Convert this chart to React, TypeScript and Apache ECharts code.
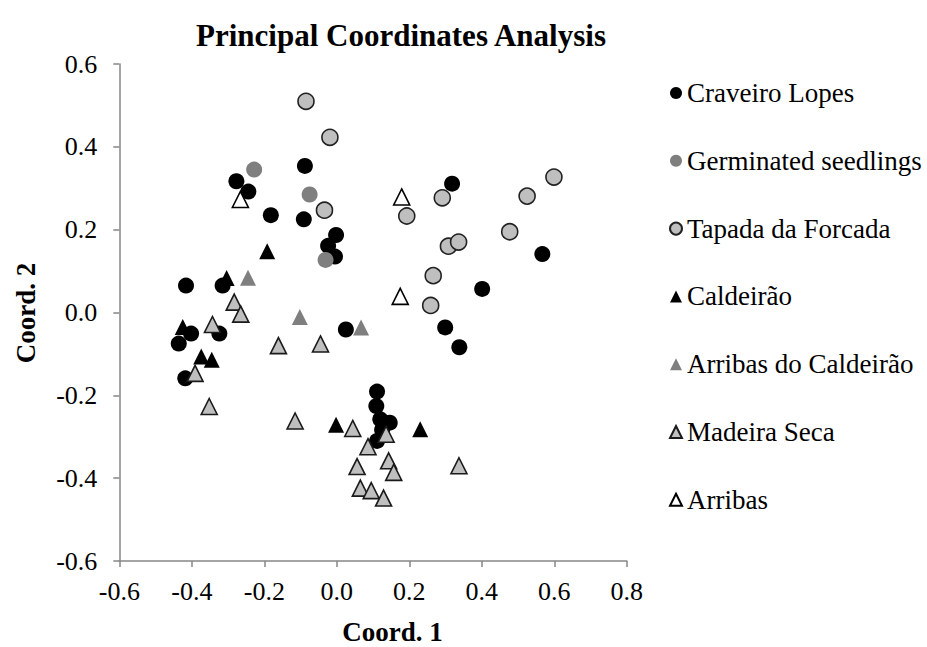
import React, { useEffect, useRef } from "react";
import * as echarts from "echarts";

// PCoA coordinates per population: [Coord. 1, Coord. 2]
const craveiroLopes: number[][] = [
  [-0.088, 0.354], [-0.277, 0.317], [-0.244, 0.292], [-0.182, 0.235], [-0.091, 0.225],
  [-0.002, 0.187], [-0.024, 0.161], [-0.005, 0.135], [-0.416, 0.065], [-0.315, 0.065],
  [-0.402, -0.051], [-0.324, -0.051], [-0.436, -0.075], [-0.418, -0.159], [0.025, -0.041],
  [0.318, 0.311], [0.567, 0.141], [0.401, 0.057], [0.299, -0.036], [0.338, -0.084],
  [0.111, -0.191], [0.109, -0.226], [0.12, -0.258], [0.146, -0.266], [0.125, -0.283],
  [0.111, -0.31],
];
const germinatedSeedlings: number[][] = [
  [-0.228, 0.345], [-0.075, 0.285], [-0.031, 0.127],
];
const tapadaDaForcada: number[][] = [
  [-0.085, 0.51], [-0.019, 0.423], [-0.034, 0.247], [0.193, 0.233], [0.291, 0.277],
  [0.599, 0.327], [0.525, 0.281], [0.477, 0.195], [0.308, 0.16], [0.336, 0.17],
  [0.266, 0.089], [0.259, 0.017],
];
const caldeirao: number[][] = [
  [-0.192, 0.148], [-0.304, 0.083], [-0.425, -0.035], [-0.374, -0.106], [-0.345, -0.114],
  [-0.002, -0.271], [0.23, -0.282],
];
const arribasDoCaldeirao: number[][] = [
  [-0.245, 0.084], [-0.102, -0.011], [0.067, -0.036],
];
const madeiraSeca: number[][] = [
  [-0.283, 0.025], [-0.265, -0.004], [-0.343, -0.029], [-0.161, -0.08], [-0.045, -0.076],
  [-0.391, -0.147], [-0.352, -0.227], [-0.115, -0.262], [0.044, -0.28], [0.136, -0.294],
  [0.086, -0.324], [0.143, -0.358], [0.056, -0.372], [0.157, -0.386], [0.065, -0.424],
  [0.095, -0.43], [0.129, -0.448], [0.337, -0.37],
];
const arribas: number[][] = [
  [-0.266, 0.273], [0.179, 0.279], [0.175, 0.039],
];

const seriesNames = [
  "Craveiro Lopes",
  "Germinated seedlings",
  "Tapada da Forcada",
  "Caldeirão",
  "Arribas do Caldeirão",
  "Madeira Seca",
  "Arribas",
];

const FONT = "Liberation Serif";

export default function App() {
  const ref = useRef<HTMLDivElement>(null);

  useEffect(() => {
    if (!ref.current) return;
    const chart = echarts.init(ref.current, null, { renderer: "svg" });

    const styles = [
      { data: craveiroLopes, symbol: "circle", size: 16, color: "#000000", border: "#000000", bw: 0 },
      { data: germinatedSeedlings, symbol: "circle", size: 16, color: "#7f7f7f", border: "#7f7f7f", bw: 0 },
      { data: tapadaDaForcada, symbol: "circle", size: 16, color: "#bfbfbf", border: "#222222", bw: 1.6 },
      { data: caldeirao, symbol: "triangle", size: 16, color: "#000000", border: "#000000", bw: 0 },
      { data: arribasDoCaldeirao, symbol: "triangle", size: 16, color: "#7f7f7f", border: "#7f7f7f", bw: 0 },
      { data: madeiraSeca, symbol: "triangle", size: 16, color: "#bfbfbf", border: "#1a1a1a", bw: 1.6 },
      { data: arribas, symbol: "triangle", size: 16, color: "#ffffff", border: "#000000", bw: 1.6 },
    ];

    const series = styles.map((s, i) => ({
      name: seriesNames[i],
      type: "scatter",
      data: s.data,
      symbol: s.symbol,
      symbolSize: s.size,
      itemStyle: { color: s.color, borderColor: s.border, borderWidth: s.bw, opacity: 1 },
      emphasis: { disabled: true },
    }));

    const labelStyle = {
      color: "#000",
      fontFamily: FONT,
      fontSize: 26,
      formatter: (v: number) => v.toFixed(1),
    };

    const axisCommon = {
      type: "value",
      interval: 0.2,
      splitLine: { show: false },
      axisLine: { show: true, onZero: false, lineStyle: { color: "#868686", width: 1.5 } },
      axisTick: { show: true, inside: false, length: 6, lineStyle: { color: "#868686", width: 1.5 } },
    };

    chart.setOption({
      animation: false,
      backgroundColor: "#ffffff",
      grid: { left: 119.3, right: 300.2, top: 64, bottom: 86, containLabel: false },
      xAxis: { ...axisCommon, min: -0.6, max: 0.8, axisLabel: { ...labelStyle, margin: 17 } },
      yAxis: { ...axisCommon, min: -0.6, max: 0.6, axisLabel: { ...labelStyle, margin: 22 } },
      legend: {
        orient: "vertical",
        left: 664,
        top: 74,
        itemWidth: 12,
        itemHeight: 12,
        itemGap: 39.8,
        textStyle: { fontFamily: FONT, fontSize: 27, color: "#000", lineHeight: 28 },
        data: seriesNames,
        selectedMode: false,
      },
      graphic: [
        {
          type: "text",
          x: 401,
          y: 35,
          style: {
            text: "Principal Coordinates Analysis",
            font: `bold 31px ${FONT}`,
            fill: "#000",
            align: "center",
            verticalAlign: "middle",
          },
        },
        {
          type: "text",
          x: 392.5,
          y: 645,
          style: {
            text: "Coord. 1",
            font: `bold 27px ${FONT}`,
            fill: "#000",
            align: "center",
            verticalAlign: "bottom",
          },
        },
        {
          type: "text",
          x: 26,
          y: 313,
          rotation: Math.PI / 2,
          style: {
            text: "Coord. 2",
            font: `bold 27px ${FONT}`,
            fill: "#000",
            align: "center",
            verticalAlign: "middle",
          },
        },
      ],
      series,
    });

    return () => chart.dispose();
  }, []);

  return (
    <div
      ref={ref}
      style={{ position: "absolute", left: 0, top: 0, width: 927, height: 647 }}
    />
  );
}
